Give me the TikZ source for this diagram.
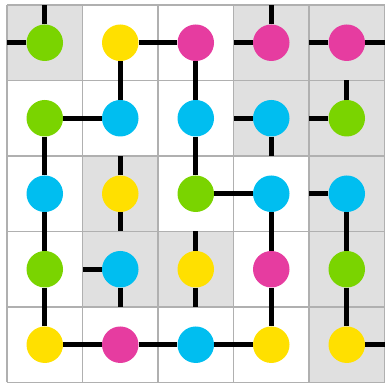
\documentclass[tikz,border=0pt]{standalone}
\usetikzlibrary{positioning}
\definecolor{G}{RGB}{122,212,0}
\definecolor{Y}{RGB}{255,224,0}
\definecolor{M}{RGB}{230,60,160}
\definecolor{C}{RGB}{0,190,240}
\definecolor{cellgray}{RGB}{224,224,224}
\definecolor{gridgray}{RGB}{176,176,176}
\tikzset{
  dot/.style={circle,fill=#1,minimum size=0.73cm,inner sep=0pt},
  link/.style={line width=2.85pt}
}
\begin{document}
\begin{tikzpicture}[x=1.51cm,y=1.51cm]
 \useasboundingbox (-0.093,-5.06) rectangle (5.007,0.066);
 % shaded cells
 \foreach \c/\r in {1/1,4/1,5/1,4/2,5/2,2/3,5/3,2/4,3/4,5/4,5/5}
   {\fill[cellgray] (\c-1,-\r+1) rectangle (\c,-\r);}
 \draw[gridgray,line width=0.85pt,step=1] (0,-5) grid (5,0);
 % dots and cell edges
 \foreach \r/\cols in {1/{G,Y,M,M,M},2/{G,C,C,C,G},3/{C,Y,G,C,C},
                       4/{G,C,Y,M,G},5/{Y,M,C,Y,Y}}
   {\foreach \k [count=\c] in \cols
     {\node[dot=\k] (n\r\c) at (\c-0.5,-\r+0.5) {};
      \coordinate (top\r\c) at (\c-0.5,-\r+1);
      \coordinate (bot\r\c) at (\c-0.5,-\r);
      \coordinate (lft\r\c) at (\c-1,-\r+0.5);
      \coordinate (rgt\r\c) at (\c,-\r+0.5);}}
 % links between dots
 \foreach \a/\b in {12/13,12/22,13/23,21/22,21/31,23/33,31/41,33/34,
                    34/44,35/45,41/51,44/54,45/55,51/52,52/53,53/54}
   {\draw[link] (n\a) -- (n\b);}
 % open ends
 \foreach \a/\b in {n11/top11,n11/lft11,n14/top14,n14/lft14,n15/lft15,
                    n15/rgt15,n24/lft24,n24/bot24,n25/top25,n25/lft25,
                    n32/top32,n32/bot32,n35/lft35,n42/lft42,n42/bot42,
                    n43/top43,n43/bot43,n55/rgt55}
   {\draw[link] (\a) -- (\b);}
\end{tikzpicture}
\end{document}
